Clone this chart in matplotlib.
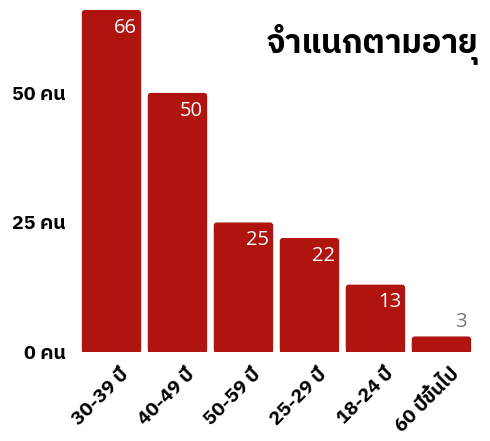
import matplotlib
matplotlib.use('Agg')
import matplotlib.pyplot as plt
import matplotlib.transforms as mtransforms
from matplotlib.patches import FancyBboxPatch, Rectangle

THAI = ['IBM Plex Sans Thai', 'DejaVu Sans']
plt.rcParams['font.family'] = THAI

age_groups = ['30-39 ปี', '40-49 ปี', '50-59 ปี', '25-29 ปี', '18-24 ปี', '60 ปีขึ้นไป']
counts = [66, 50, 25, 22, 13, 3]
y_ticks = [0, 25, 50]
y_tick_labels = ['0 คน', '25 คน', '50 คน']
title = 'จำแนกตามอายุ'

BAR_COLOR = '#b0140f'
NUM_FONT = ['Open Sans', 'Noto Sans', 'DejaVu Sans']

fig = plt.figure(figsize=(4.9, 4.41), dpi=100)
ax = fig.add_axes([0.1602, 0.2018, 0.808, 0.799])

x = list(range(len(counts)))
bars = ax.bar(x, counts, width=0.9, color=BAR_COLOR)
ax.set_xlim(-0.5, len(counts) - 0.5)
ax.set_ylim(0, 68)

# round the top corners (bars are only a few px wide in y units, so fix the aspect)
px_x = 1 / 66.0
px_y = 1 / 5.18
r = 3 * px_x
for b in bars:
    b.set_visible(False)
    x0, w, h = b.get_x(), b.get_width(), b.get_height()
    ax.add_patch(FancyBboxPatch((x0, 0), w, h,
                                boxstyle=f'round,pad=0,rounding_size={r}',
                                mutation_aspect=px_y / px_x,
                                facecolor=BAR_COLOR, edgecolor='none'))
    ax.add_patch(Rectangle((x0, 0), w, h / 2, facecolor=BAR_COLOR, edgecolor='none'))

for xi, v in zip(x, counts):
    right = xi + 0.45 - 4 * px_x
    if v >= 10:
        ax.text(right, v - 1.5, str(v), ha='right', va='top', color='white',
                fontsize=14.5, family=NUM_FONT)
    else:
        ax.text(right, v + 0.9, str(v), ha='right', va='bottom', color='#777777',
                fontsize=14.5, family=NUM_FONT)

ax.set_yticks(y_ticks)
ax.set_yticklabels(y_tick_labels, fontsize=14, fontweight='bold')
ax.tick_params(axis='y', length=0, pad=9)

ax.set_xticks(x)
ax.set_xticklabels(age_groups, fontsize=14, fontweight='bold', rotation=45,
                   ha='right', va='center', rotation_mode='anchor')
ax.tick_params(axis='x', length=0, pad=14)
offset = mtransforms.ScaledTranslation(15 / 100, 0, fig.dpi_scale_trans)
for lbl in ax.get_xticklabels():
    lbl.set_transform(lbl.get_transform() + offset)

for s in ax.spines.values():
    s.set_visible(False)

fig.text(0.976, 0.898, title, ha='right', va='center', fontsize=23.5, fontweight='bold')

fig.savefig('out.png', dpi=100)
